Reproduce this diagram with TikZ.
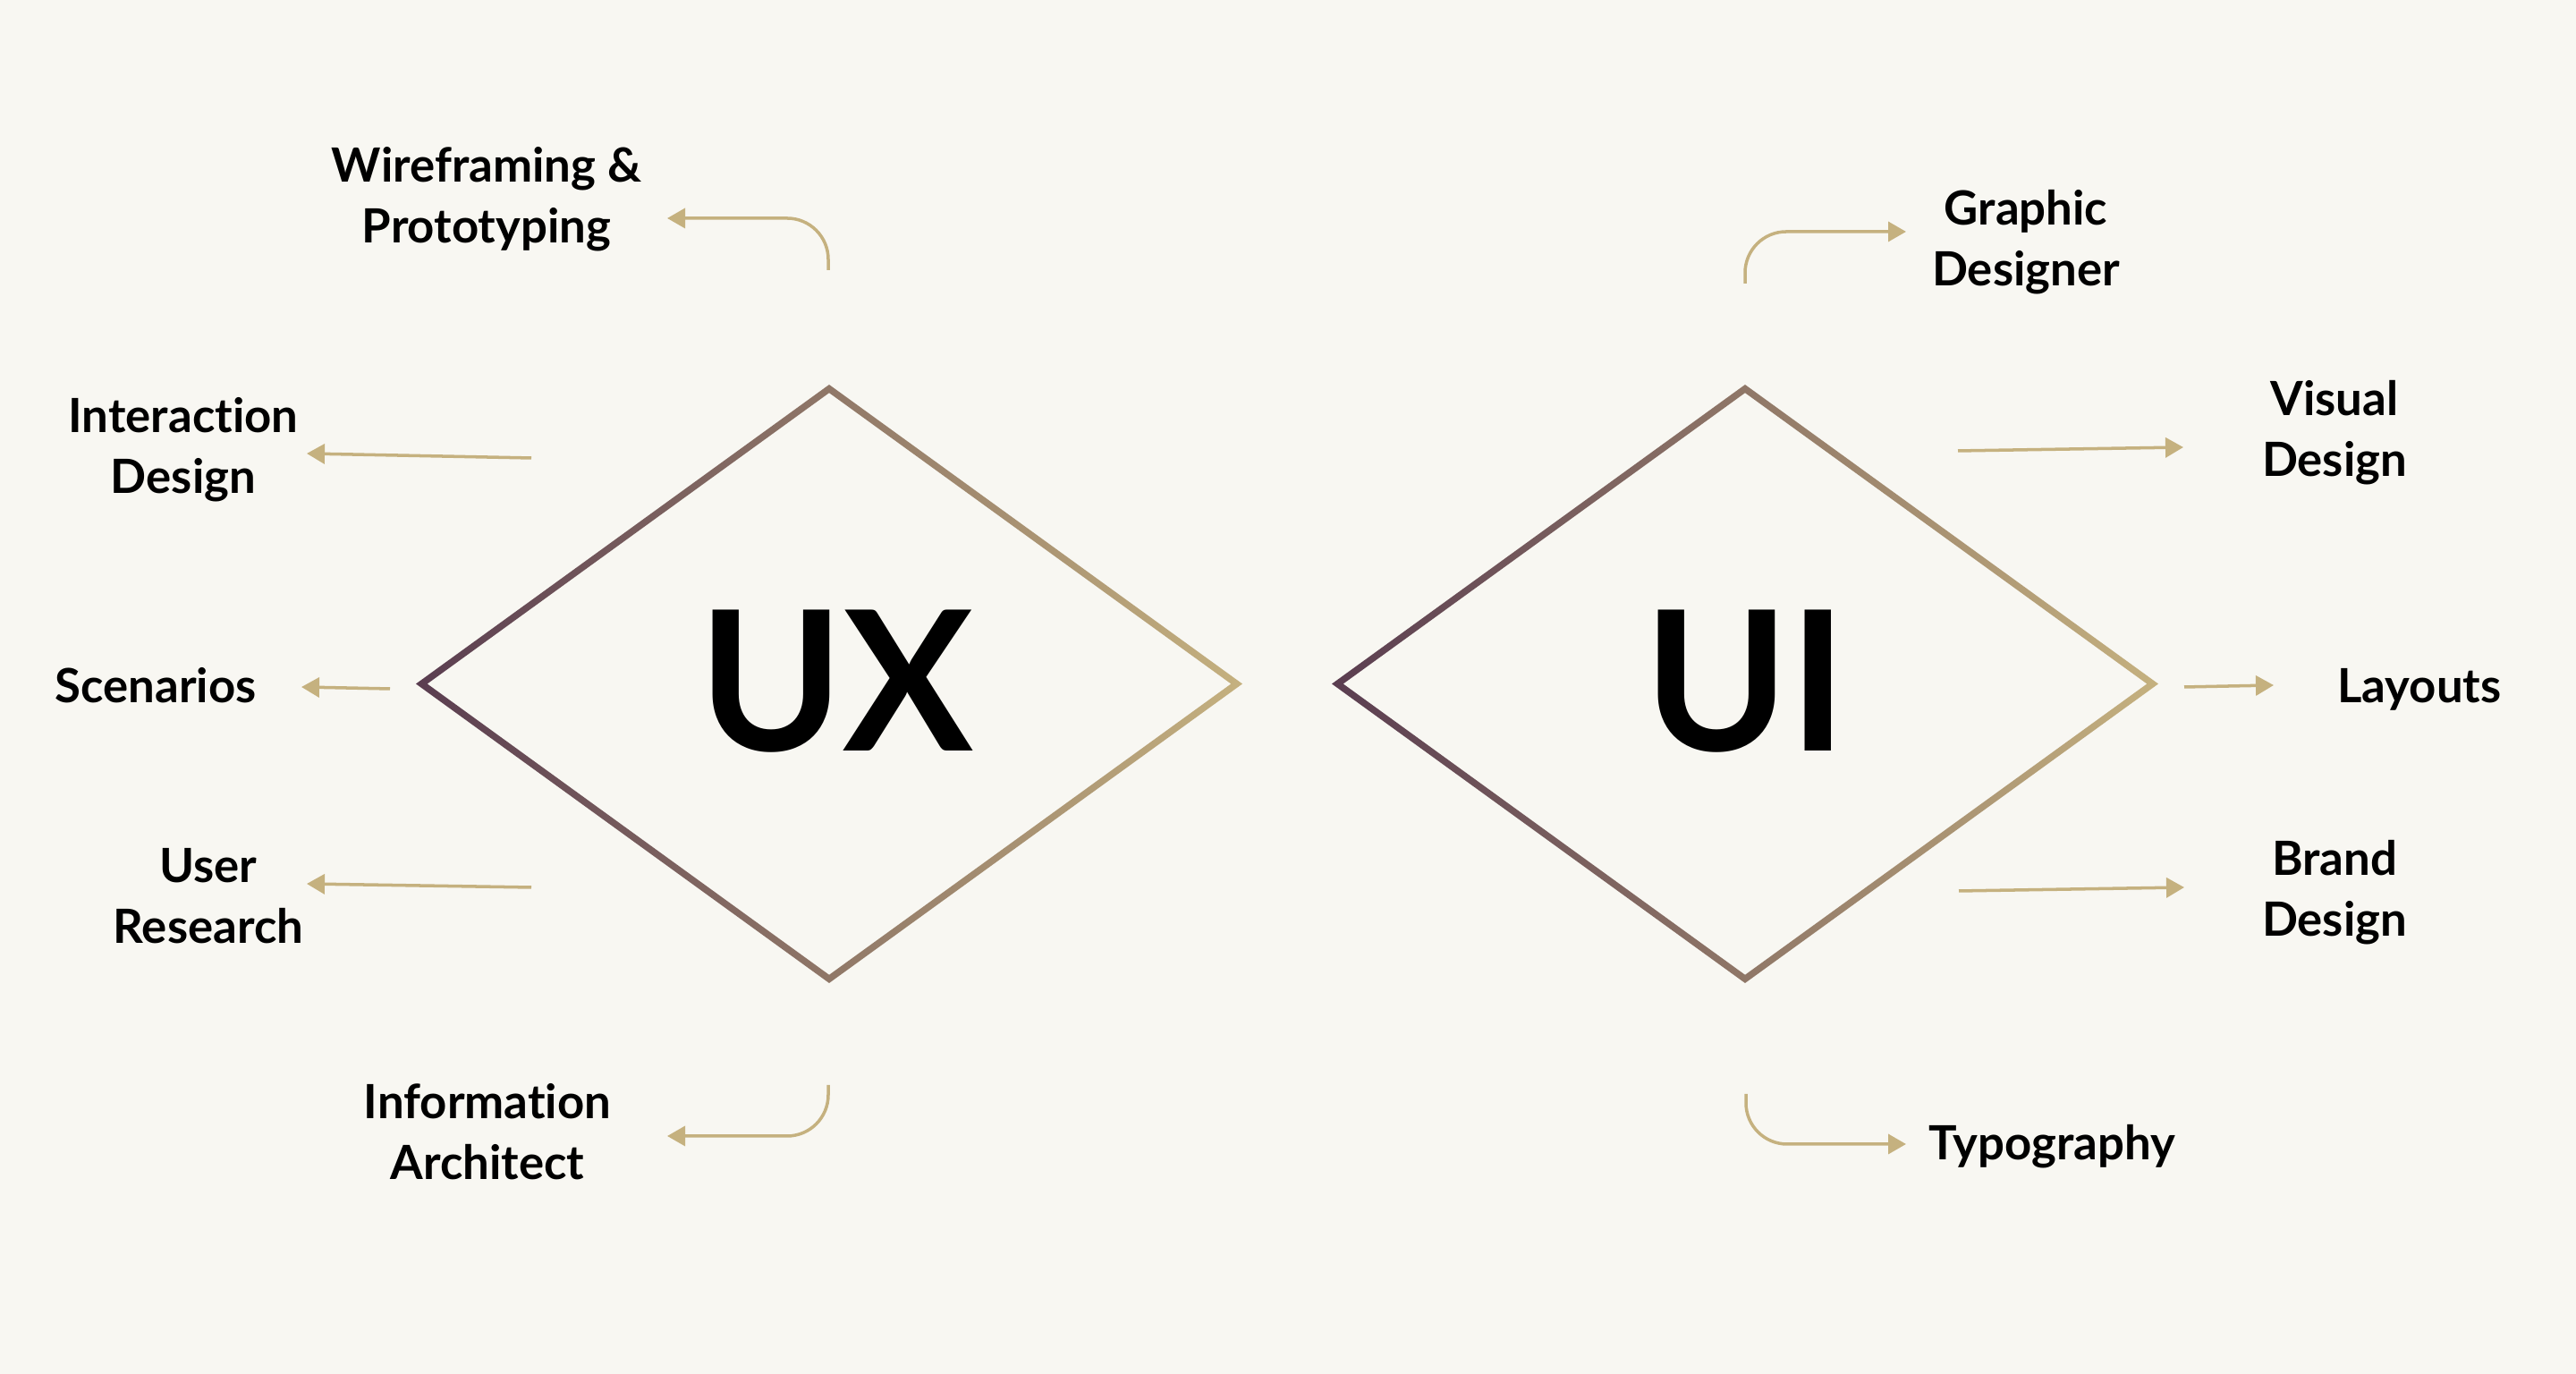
\documentclass[tikz,border=0pt]{standalone}
\usepackage{fontspec}
\setmainfont{Lato}[Ligatures=NoCommon]
\usetikzlibrary{arrows.meta,calc,positioning}
\definecolor{bgcream}{HTML}{F8F7F2}
\definecolor{gold}{HTML}{C5B17F}
\definecolor{plum}{HTML}{5A3D50}

\begin{document}
\begin{tikzpicture}[
		tag/.style={font=\fontsize{15}{19.5}\selectfont\bfseries, align=center, anchor=base, inner sep=0pt},
		big/.style={font=\fontsize{62}{62}\selectfont\bfseries, inner sep=0pt},
		link/.style={draw=gold, line width=1pt, -{Triangle[length=0.2cm,width=0.22cm]}},
		hooklink/.style={link, rounded corners=0.46cm}
	]
		\fill[bgcream] (0,0) rectangle (28.8,15.36);
		\useasboundingbox (0,0) rectangle (28.8,15.36);
		% diamond centres
		\coordinate (uxc) at (9.27,7.715);
		\coordinate (uic) at (19.51,7.715);
		\shade[left color=plum, middle color=gold!80!plum, right color=gold, even odd rule]
			(uxc) ++(-4.62,0) -- ++(4.62,3.345) -- ++(4.62,-3.345) -- ++(-4.62,-3.345) -- cycle
			(uxc) ++(-4.493,0) -- ++(4.493,3.253) -- ++(4.493,-3.253) -- ++(-4.493,-3.253) -- cycle;
		\shade[left color=plum, middle color=gold!80!plum, right color=gold, even odd rule]
			(uic) ++(-4.62,0) -- ++(4.62,3.345) -- ++(4.62,-3.345) -- ++(-4.62,-3.345) -- cycle
			(uic) ++(-4.493,0) -- ++(4.493,3.253) -- ++(4.493,-3.253) -- ++(-4.493,-3.253) -- cycle;
		\node [big] (ux) at (9.35,7.74) {UX};
		\node [big] (ui) at (19.52,7.74) {UI};
		% UX side
		\node [tag] (wire) at (5.44,12.64) {Wireframing \&\\Prototyping};
		\node [tag] (inter) at (2.05,9.84) {Interaction\\Design};
		\node [tag] (scen) at (1.74,7.50) {Scenarios};
		\node [tag] (user) at (2.33,4.81) {User\\Research};
		\node [tag] (info) at (5.45,2.17) {Information\\Architect};
		% UI side
		\node [tag] (graphic) at (22.65,12.16) {Graphic\\Designer};
		\node [tag] (visual) at (26.10,10.03) {Visual\\Design};
		\node [tag] (layouts) at (27.05,7.50) {Layouts};
		\node [tag] (brand) at (26.10,4.89) {Brand\\Design};
		\node [tag] (typo) at (22.94,2.39) {Typography};
		% arrow ends
		\coordinate (wire-from) at (9.26,12.34);
		\coordinate (wire-to) at (7.46,12.92);
		\coordinate (inter-from) at (5.94,10.24);
		\coordinate (inter-to) at (3.43,10.29);
		\coordinate (scen-from) at (4.36,7.66);
		\coordinate (scen-to) at (3.37,7.68);
		\coordinate (user-from) at (5.94,5.44);
		\coordinate (user-to) at (3.43,5.48);
		\coordinate (info-from) at (9.26,3.23);
		\coordinate (info-to) at (7.46,2.66);
		\coordinate (graphic-from) at (19.51,12.19);
		\coordinate (graphic-to) at (21.31,12.77);
		\coordinate (visual-from) at (21.89,10.32);
		\coordinate (visual-to) at (24.41,10.36);
		\coordinate (layouts-from) at (24.42,7.68);
		\coordinate (layouts-to) at (25.42,7.70);
		\coordinate (brand-from) at (21.90,5.40);
		\coordinate (brand-to) at (24.42,5.44);
		\coordinate (typo-from) at (19.52,3.13);
		\coordinate (typo-to) at (21.31,2.57);
		\draw [hooklink] (wire-from) |- (wire-to);
		\draw [link] (inter-from) -- (inter-to);
		\draw [link] (scen-from) -- (scen-to);
		\draw [link] (user-from) -- (user-to);
		\draw [hooklink] (info-from) |- (info-to);
		\draw [hooklink] (graphic-from) |- (graphic-to);
		\draw [link] (visual-from) -- (visual-to);
		\draw [link] (layouts-from) -- (layouts-to);
		\draw [link] (brand-from) -- (brand-to);
		\draw [hooklink] (typo-from) |- (typo-to);
	\end{tikzpicture}
\end{document}
